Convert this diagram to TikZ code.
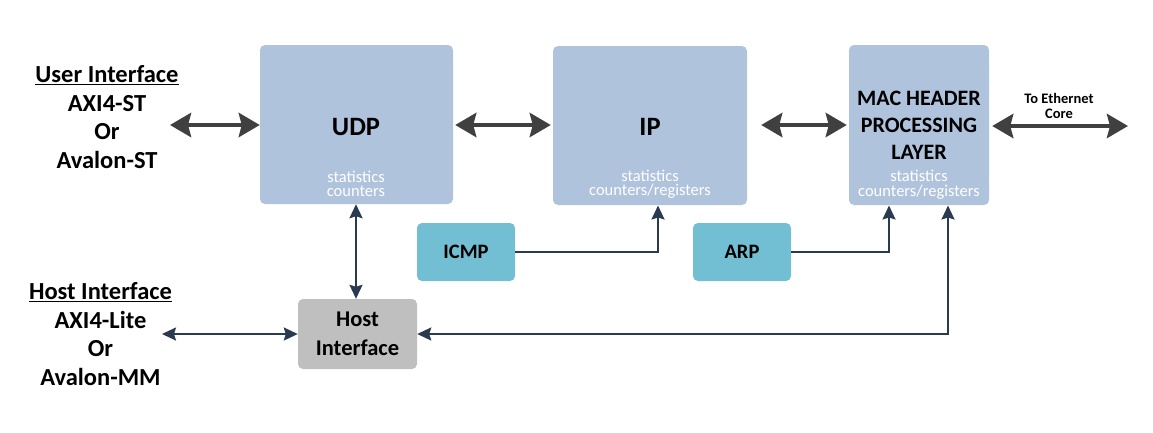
\documentclass[tikz,border=0pt]{standalone}
\usepackage{fontspec}
\setmainfont{Carlito}
\usetikzlibrary{arrows.meta}
\definecolor{boxblue}{HTML}{B0C3DC}
\definecolor{boxcyan}{HTML}{72BFD3}
\definecolor{boxgray}{HTML}{BFBFBF}
\definecolor{thickgray}{HTML}{404040}
\definecolor{connnavy}{HTML}{2A3A50}
\definecolor{stattext}{HTML}{FFFFFF}
\tikzset{
  navytip/.tip={Stealth[length=14pt,width=13pt,inset=2pt]},
  bigtip/.tip={Stealth[length=21pt,width=24pt,inset=3pt]},
  mainbox/.style={draw=none, fill=boxblue, rounded corners=5pt, inner sep=0pt},
  smallbox/.style={draw=none, fill=boxcyan, rounded corners=5pt, inner sep=0pt, minimum width=98pt, minimum height=58pt, font=\fontsize{20.5}{21}\selectfont\bfseries},
  hostbox/.style={draw=none, fill=boxgray, rounded corners=5pt, inner sep=0pt, minimum width=119pt, minimum height=70pt, align=center, font=\fontsize{22.5}{29}\selectfont\bfseries},
  title/.style={inner sep=0pt, align=center, font=\fontsize{26.5}{28}\selectfont\bfseries},
  mactitle/.style={inner sep=0pt, align=center, font=\fontsize{22}{27}\selectfont\bfseries},
  stat/.style={inner sep=0pt, align=center, text=stattext, font=\fontsize{16.5}{14.5}\selectfont},
  sidelabel/.style={inner sep=0pt, align=center, font=\fontsize{24.5}{28.5}\selectfont\bfseries},
  ethlabel/.style={inner sep=0pt, align=center, font=\fontsize{14.5}{15.5}\selectfont\bfseries},
  thick arrow/.style={draw=thickgray, line width=4.5pt, bigtip-bigtip},
  conn/.style={draw=connnavy, line width=2pt}
}
\begin{document}
\begin{tikzpicture}[x=1pt,y=-1pt]
\useasboundingbox[fill=white] (0,0) rectangle (1153,432);
% main boxes
\node[mainbox, minimum width=193pt, minimum height=159pt] (udp) at (356.5,124.5) {};
\node[mainbox, minimum width=194pt, minimum height=159pt] (ip) at (650,125.5) {};
\node[mainbox, minimum width=140pt, minimum height=160pt] (mac) at (919,125) {};
\node[title] (udpt) at (356,127) {UDP};
\node[title] (ipt) at (650,127) {IP};
\node[mactitle] (mact) at (919,125) {MAC HEADER\\PROCESSING\\LAYER};
\node[stat] (udps) at (356,184) {statistics\\counters};
\node[stat] (ips) at (650,184) {statistics\\counters/registers};
\node[stat] (macs) at (919,184.5) {statistics\\counters/registers};
% small boxes
\node[smallbox] (icmp) at (466,252) {ICMP};
\node[smallbox] (arp) at (742,252) {ARP};
\node[hostbox] (host) at (357.5,334) {Host\\Interface};
% side labels
\node[sidelabel] (user) at (107,117) {\underline{User Interface}\\AXI4-ST\\Or\\Avalon-ST};
\node[sidelabel] (hostif) at (100.5,334) {\underline{Host Interface}\\AXI4-Lite\\Or\\Avalon-MM};
\node[ethlabel] (eth) at (1059,106) {To Ethernet\\Core};
% coordinates
\coordinate (userend) at (170,125);
\coordinate (ethend) at (1128,126);
\coordinate (hostend) at (162,334);
\coordinate (ipin) at (658,205.5);
\coordinate (macin) at (889,205.5);
\coordinate (machost) at (948,205.5);
% thick arrows
\draw[thick arrow] (userend) -- (udp.west |- userend);
\draw[thick arrow, shorten <=2pt, shorten >=2pt] (udp.east |- userend) -- (ip.west |- userend);
\draw[thick arrow, shorten <=14pt, shorten >=2pt] (ip.east |- userend) -- (mac.west |- userend);
\draw[thick arrow, shorten <=3pt] (mac.east |- ethend) -- (ethend);
% thin connectors
\draw[conn, navytip-navytip] (udpt |- udp.south) -- (udpt |- host.north);
\draw[conn, -navytip] (icmp.east) -| (ipin);
\draw[conn, -navytip] (arp.east) -| (macin);
\draw[conn, navytip-navytip] (machost) |- (host.east);
\draw[conn, navytip-navytip] (hostend) -- (host.west);
\end{tikzpicture}
\end{document}
